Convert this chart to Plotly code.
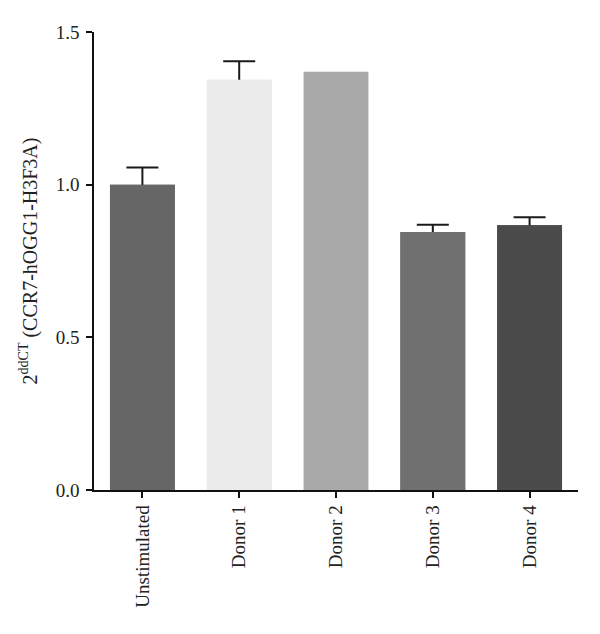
import plotly.graph_objects as go

categories = ["Unstimulated", "Donor 1", "Donor 2", "Donor 3", "Donor 4"]
values = [1.000, 1.344, 1.370, 0.845, 0.867]
errors = [0.056, 0.060, None, 0.024, 0.026]
colors = ["#666666", "#ebebeb", "#a9a9a9", "#707070", "#4b4b4b"]
y_ticks = [0.0, 0.5, 1.0, 1.5]
y_tick_labels = ["0.0", "0.5", "1.0", "1.5"]

font_family = "Liberation Serif, DejaVu Serif, serif"
text_color = "#222222"

# only the groups that have an error bar
err_idx = [i for i, e in enumerate(errors) if e is not None]
err_cats = [categories[i] for i in err_idx]
err_vals = [values[i] for i in err_idx]
err_errs = [errors[i] for i in err_idx]
err_cols = [colors[i] for i in err_idx]

fig = go.Figure()
# bars carrying symmetric error bars (lower half hidden by the overlay copy)
fig.add_trace(go.Bar(
    x=err_cats, y=err_vals, width=0.67,
    marker=dict(color=err_cols, line=dict(width=0)),
    error_y=dict(type="data", array=err_errs, symmetric=True,
                 color="#1a1a1a", thickness=2, width=16, visible=True),
    hoverinfo="skip",
))
# all bars on top, covering the lower half of each error bar
fig.add_trace(go.Bar(
    x=categories, y=values, width=0.67,
    marker=dict(color=colors, line=dict(width=0)),
))

fig.update_layout(
    width=600, height=634,
    barmode="overlay",
    paper_bgcolor="white", plot_bgcolor="white",
    margin=dict(l=94, r=22, t=32, b=144),
    showlegend=False,
    font=dict(family=font_family, size=19, color=text_color),
    xaxis=dict(
        categoryorder="array", categoryarray=categories,
        range=[-0.5, 4.5],
        showline=True, linecolor="#111111", linewidth=1.5,
        ticks="outside", ticklen=6, tickwidth=1.5, tickcolor="#111111",
        tickangle=-90, tickfont=dict(family=font_family, size=19, color=text_color),
        showgrid=False, zeroline=False,
    ),
    yaxis=dict(
        range=[0, 1.5],
        tickvals=y_ticks, ticktext=y_tick_labels,
        showline=True, linecolor="#111111", linewidth=1.5,
        ticks="outside", ticklen=6, tickwidth=1.5, tickcolor="#111111",
        ticklabelstandoff=3,
        tickfont=dict(family=font_family, size=19, color=text_color),
        showgrid=False, zeroline=False,
        title=dict(text="2<sup>ddCT</sup> (CCR7-hOGG1-H3F3A)",
                   font=dict(family=font_family, size=20, color=text_color),
                   standoff=13),
    ),
)

fig.write_html("out.html", config={"displayModeBar": False},
               post_script="document.body.style.margin='0';")
